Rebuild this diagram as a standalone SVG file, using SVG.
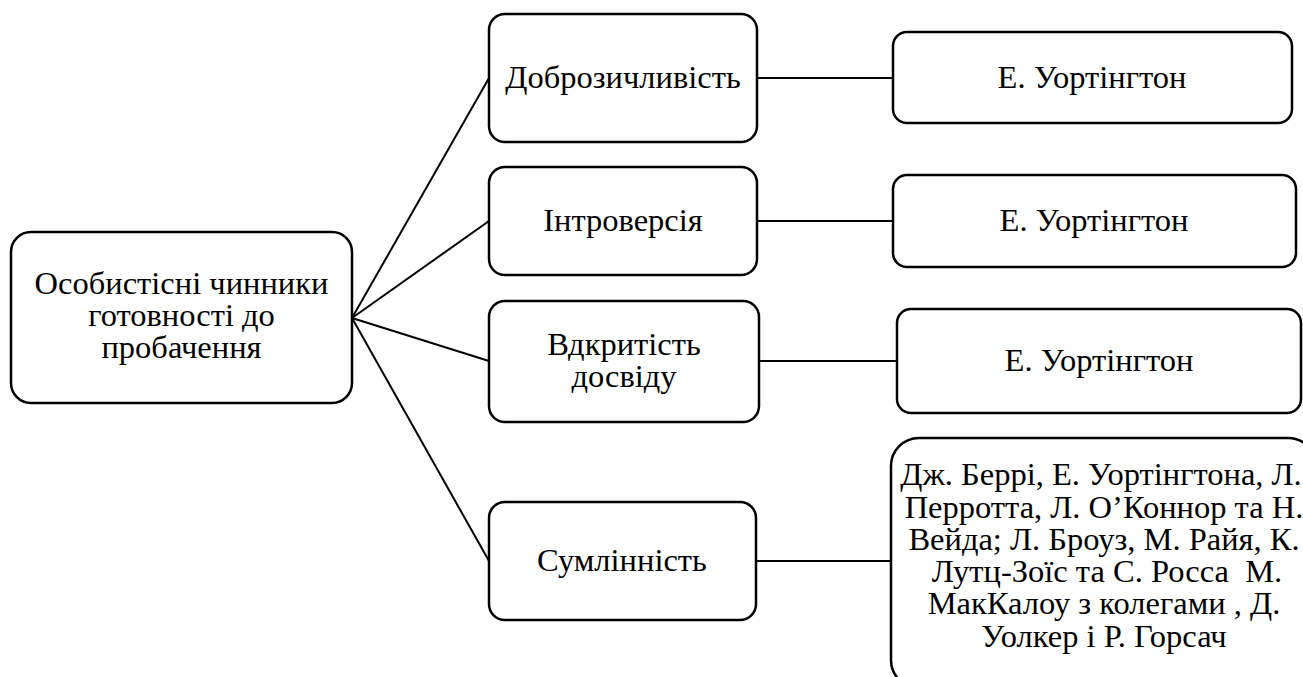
<svg xmlns="http://www.w3.org/2000/svg" width="1303" height="677" viewBox="0 0 1303 677">
<style>
.box{fill:#fff;stroke:#000;stroke-width:2.5}
.ln{stroke:#000;stroke-width:2;fill:none}
.t{font-family:"Liberation Serif","Times New Roman",serif;font-size:32.5px;fill:#000;text-anchor:middle}
</style>
<rect width="1303" height="677" fill="#fff"/>
<g id="connectors">
<line class="ln" x1="352" y1="318" x2="489" y2="78"/>
<line class="ln" x1="352" y1="318" x2="489" y2="221"/>
<line class="ln" x1="352" y1="318" x2="489" y2="361"/>
<line class="ln" x1="352" y1="318" x2="489" y2="561"/>
<line class="ln" x1="757" y1="78" x2="893" y2="78"/>
<line class="ln" x1="757" y1="221" x2="893" y2="221"/>
<line class="ln" x1="759" y1="361" x2="897" y2="361"/>
<line class="ln" x1="756" y1="561" x2="891" y2="561"/>
</g>
<g id="root" class="t">
<rect class="box" x="11" y="232" width="341" height="171" rx="20"/>
<text x="181.5" y="294">Особистісні чинники</text>
<text x="181.5" y="326">готовності до</text>
<text x="181.5" y="358">пробачення</text>
</g>
<g id="n1" class="t">
<rect class="box" x="489" y="14" width="268" height="128" rx="16"/>
<text x="623" y="88">Доброзичливість</text>
</g>
<g id="n2" class="t">
<rect class="box" x="489" y="167" width="268" height="108" rx="16"/>
<text x="623" y="231">Інтроверсія</text>
</g>
<g id="n3" class="t">
<rect class="box" x="489" y="301" width="270" height="121" rx="16"/>
<text x="624" y="355">Вдкритість</text>
<text x="624" y="387">досвіду</text>
</g>
<g id="n4" class="t">
<rect class="box" x="489" y="502" width="267" height="118" rx="16"/>
<text x="622" y="571">Сумлінність</text>
</g>
<g id="r1" class="t">
<rect class="box" x="893" y="32" width="399" height="91" rx="14"/>
<text x="1092" y="88">Е. Уортінгтон</text>
</g>
<g id="r2" class="t">
<rect class="box" x="893" y="175" width="403" height="92" rx="14"/>
<text x="1094" y="231">Е. Уортінгтон</text>
</g>
<g id="r3" class="t">
<rect class="box" x="897" y="309" width="404" height="104" rx="14"/>
<text x="1099" y="371">Е. Уортінгтон</text>
</g>
<g id="r4" class="t">
<rect class="box" x="891" y="438" width="425" height="250" rx="28"/>
<text x="1101" y="485">Дж. Беррі, Е. Уортінгтона, Л.</text>
<text x="1104" y="518">Перротта, Л. О’Коннор та Н.</text>
<text x="1104" y="550">Вейда; Л. Броуз, М. Райя, К.</text>
<text x="1107" y="582" xml:space="preserve">Лутц-Зоїс та С. Росса  М.</text>
<text x="1104" y="614">МакКалоу з колегами , Д.</text>
<text x="1104" y="647">Уолкер і Р. Горсач</text>
</g>
</svg>
